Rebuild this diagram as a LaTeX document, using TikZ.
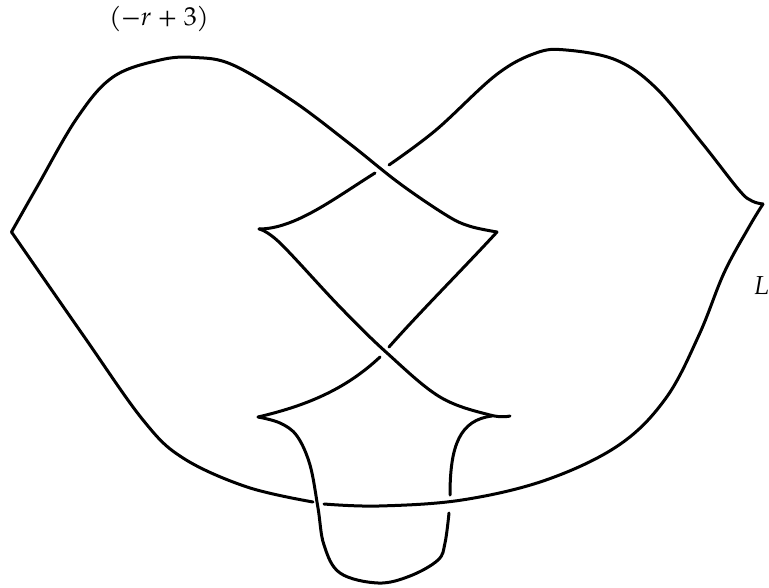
\documentclass[tikz,border=0pt]{standalone}
\usepackage{fontspec}
\setmainfont{TeX Gyre Pagella}
\tikzset{strand/.style={draw=black,line width=3pt,line cap=round,line join=round,smooth,tension=0.6},
lab/.style={inner sep=0pt,font=\fontsize{26}{30}\selectfont}}
\begin{document}
\begin{tikzpicture}[x=1pt,y=-1pt]
\useasboundingbox (0,0) rectangle (769,588);
\coordinate (cl) at (11.5,232);
\coordinate (cr) at (763,204);
\coordinate (ul) at (259,229);
\coordinate (ur) at (497,232);
\coordinate (ll) at (258,417);
\coordinate (lr) at (510,416);
\draw[strand] plot coordinates {(cl) (37,187) (77,118) (113,77) (160,60) (195,57.5) (233,65) (293,101) (350,144) (399,183) (446,215) (469,226) (ur)};
\draw[strand] plot coordinates {(389,165) (436,130) (496,75) (536,53) (566,50) (616,60) (656,88) (702,143) (739,190) (752,201) (cr)};
\draw[strand] (ul) .. controls (295,229) and (335,198) .. (375,173);
\draw[strand] plot coordinates {(ul) (280,243) (340,307) (387,353) (440,397) (490,415) (lr)};
\draw[strand] (ur) .. controls (460,272) and (420,312) .. (389,347);
\draw[strand] (380,357) .. controls (345,390) and (305,406) .. (ll);
\draw[strand] plot coordinates {(ll) (280,423) (297,436) (310,465) (318,508) (324,545) (340,573) (378,583) (410,576) (438,560) (445,543) (449,513)};
\draw[strand] (450,495) .. controls (450,445) and (460,420) .. (492,416);
\draw[strand] plot coordinates {(cl) (83,335) (143,420) (183,458) (247,487) (313,502)};
\draw[strand] plot coordinates {(324,504) (379,506) (462,500) (546,480) (619,445) (666,398) (699,335) (724,273) (749,227) (cr)};
\node[lab] (t) at (159,19) {(−\textit{r} + 3)};
\node[lab,anchor=base east] (L) at (769,295) {\textit{L}};
\end{tikzpicture}
\end{document}
